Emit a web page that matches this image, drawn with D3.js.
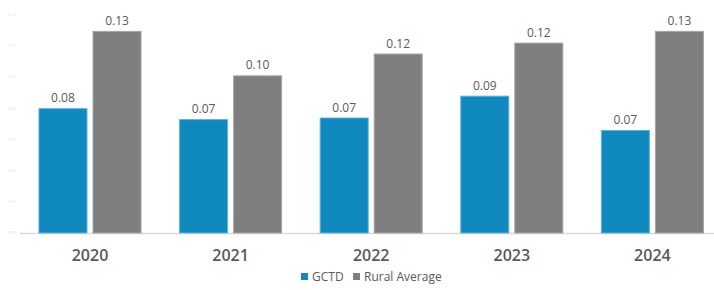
<!DOCTYPE html>
<html>
<head>
<meta charset="utf-8">
<script src="https://cdn.jsdelivr.net/npm/d3@7/dist/d3.min.js"></script>
<style>
html,body{margin:0;padding:0;background:#fff;}
svg{display:block;font-family:"Open Sans",sans-serif;}
</style>
</head>
<body>
<svg id="chart" width="714" height="290"></svg>
<script>
const years = ["2020","2021","2022","2023","2024"];
const seriesNames = ["GCTD","Rural Average"];
const gctd = [0.080, 0.073, 0.074, 0.088, 0.066];
const rural = [0.1295, 0.101, 0.115, 0.122, 0.1295];
const yTicks = [0, 0.02, 0.04, 0.06, 0.08, 0.10, 0.12, 0.14];
const colors = ["#1089bf", "#7f7f7f"];
const strokes = ["#5fb3da", "#a6a6a6"];

const svg = d3.select("#chart");
const baseY = 233;
const y = d3.scaleLinear().domain([0, 0.14]).range([baseY, 14.5]);
const x0 = d3.scaleBand().domain(years).range([19.7, 722.7]).paddingInner(0.267).paddingOuter(0.1335);
const x1 = d3.scaleBand().domain(seriesNames).range([0, x0.bandwidth()]).paddingInner(0.0926);

const data = years.map((yr, i) => ({year: yr, vals: [gctd[i], rural[i]]}));

// faint y tick labels
svg.append("g").selectAll("text").data(yTicks).join("text")
  .attr("x", 12).attr("y", d => y(d)).attr("dy", "0.35em")
  .attr("text-anchor", "middle").attr("font-size", 4).attr("fill", "#e3e3e3")
  .text(d => d3.format(".2f")(d));

// axis line
svg.append("line").attr("x1", 20).attr("x2", 714).attr("y1", baseY + 0.5).attr("y2", baseY + 0.5)
  .attr("stroke", "#d9d9d9").attr("stroke-width", 1.5);

const g = svg.append("g").selectAll("g").data(data).join("g")
  .attr("transform", d => `translate(${x0(d.year)},0)`);

g.selectAll("rect").data(d => d.vals.map((v, k) => ({k, v}))).join("rect")
  .attr("x", d => x1(seriesNames[d.k]) + 0.5)
  .attr("y", d => y(d.v) + 0.5)
  .attr("width", x1.bandwidth() - 1)
  .attr("height", d => baseY - y(d.v) - 0.5)
  .attr("fill", d => colors[d.k])
  .attr("stroke", d => strokes[d.k]).attr("stroke-width", 1);

g.selectAll("text.val").data(d => d.vals.map((v, k) => ({k, v}))).join("text")
  .attr("class", "val")
  .attr("x", d => x1(seriesNames[d.k]) + x1.bandwidth() / 2)
  .attr("y", d => y(d.v) - 6)
  .attr("text-anchor", "middle").attr("font-size", 12).attr("fill", "#595959")
  .text(d => d3.format(".2f")(d.v));

// x axis labels
svg.append("g").selectAll("text").data(years).join("text")
  .attr("x", d => x0(d) + x0.bandwidth() / 2)
  .attr("y", 261)
  .attr("text-anchor", "middle").attr("font-size", 16).attr("font-weight", 600).attr("fill", "#595959")
  .text(d => d);

// legend
const legX = [301, 353];
const leg = svg.append("g").selectAll("g").data(seriesNames).join("g")
  .attr("transform", (d, i) => `translate(${legX[i]},273)`);
leg.append("rect").attr("width", 7).attr("height", 7).attr("y", 0).attr("fill", (d, i) => colors[i]);
leg.append("text").attr("x", 11).attr("y", 3.5).attr("dy", "0.35em")
  .attr("font-size", 12).attr("fill", "#595959").text(d => d);
</script>
</body>
</html>
